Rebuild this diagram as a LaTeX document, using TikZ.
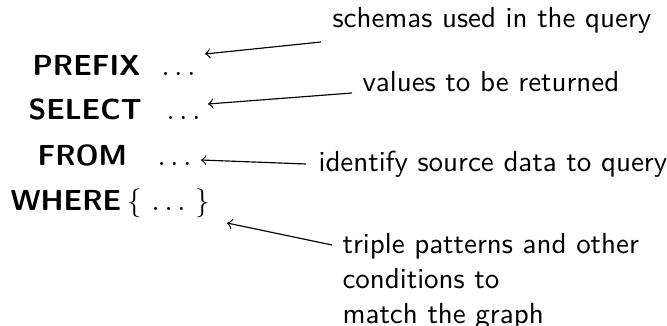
\documentclass[tikz,border=0pt]{standalone}
\usetikzlibrary{calc}
\begin{document}
\begin{tikzpicture}[x=0.345pt,y=-0.345pt, font=\sffamily,
  kw/.style={font=\sffamily\bfseries, inner sep=0pt, anchor=base west},
  txt/.style={inner sep=0pt, anchor=base west},
  lbl/.style={inner sep=0pt, anchor=base west},
  mlbl/.style={inner sep=0pt, anchor=north west, align=left},
  arr/.style={<-, line width=0.4pt}]
\useasboundingbox (0,0) rectangle (667,326);
% query keywords
\node[kw]  (prefix) at (32,75)  {PREFIX};
\node[txt] (pdots)  at (161,75) {$\ldots$};
\node[kw]  (select) at (28,120) {SELECT};
\node[txt] (sdots)  at (166,120) {$\ldots$};
\node[kw]  (from)   at (37,166) {FROM};
\node[txt] (fdots)  at (157,166) {$\ldots$};
\node[kw]  (where)  at (10,210) {WHERE};
\node[txt] (wbody)  at (127,210) {$\{\ \ldots\ \}$};
% labels
\node[lbl] (s1) at (332,28)  {schemas used in the query};
\node[lbl] (s2) at (362,92)  {values to be returned};
\node[lbl] (s3) at (318,172) {identify source data to query};
\node[mlbl] (s4) at (342,233) {triple patterns and other\\conditions to\\match the graph};
% arrow tips
\coordinate (t1) at (205,54);
\coordinate (t2) at (208,104);
\coordinate (t3) at (201,160);
\coordinate (t4) at (227,223);
\draw[arr] (t1) -- ($(s1.base west)+(-11,14)$);
\draw[arr] (t2) -- ($(s2.base west)+(-10,1)$);
\draw[arr] (t3) -- ($(s3.base west)+(-12,-8)$);
\draw[arr] (t4) -- ($(s4.north west)+(-10,12)$);
\end{tikzpicture}
\end{document}
